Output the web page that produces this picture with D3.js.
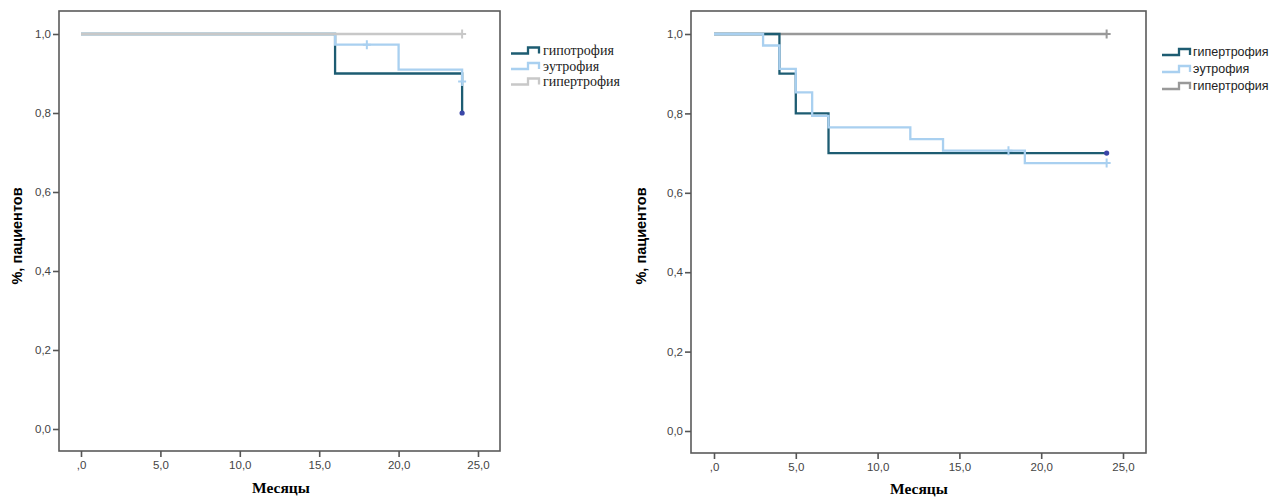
<!DOCTYPE html>
<html>
<head>
<meta charset="utf-8">
<script src="https://cdn.jsdelivr.net/npm/d3@7"></script>
<style>
  body { margin: 0; background: #fff; }
  svg { display: block; }
</style>
</head>
<body>
<script>
// survival data (months / share of patients)
var leftHypoT = [0, 16, 24], leftHypoS = [1, 0.9, 0.8];
var leftEuT = [0, 16, 20, 24], leftEuS = [1, 0.973, 0.91, 0.88];
var leftEuCens = [18, 24];
var leftHyperT = [0, 24], leftHyperS = [1, 1];
var leftHyperCens = [24];
var leftLegend = ["гипотрофия", "эутрофия", "гипертрофия"];

var rightHypoT = [0, 4, 5, 7, 24], rightHypoS = [1, 0.9, 0.8, 0.7, 0.7];
var rightEuT = [0, 3, 4, 5, 6, 7, 12, 14, 19, 24];
var rightEuS = [1, 0.971, 0.912, 0.853, 0.794, 0.765, 0.735, 0.706, 0.675, 0.675];
var rightEuCens = [18, 24];
var rightHyperT = [0, 24], rightHyperS = [1, 1];
var rightHyperCens = [24];
var rightLegend = ["гипертрофия", "эутрофия", "гипертрофия"];

var xTicks = [0, 5, 10, 15, 20, 25];
var yTicks = [0, 0.2, 0.4, 0.6, 0.8, 1];

var dark = "#1d5c72", light = "#a9d0f0", dotCol = "#3a46a8";
var serif = "'Liberation Serif', 'Times New Roman', 'DejaVu Serif', serif";
var sans = "'Liberation Sans', Arial, sans-serif";

var svg = d3.select("body").append("svg")
    .attr("width", 1277)
    .attr("height", 498);

function stepVal(T, S, t) {
  var v = S[0];
  for (var i = 0; i < T.length; i++) if (T[i] <= t) v = S[i];
  return v;
}

function drawChart(c) {
  var x = d3.scaleLinear().domain([0, 25]).range(c.xr);
  var y = d3.scaleLinear().domain([0, 1]).range(c.yr);
  var g = svg.append("g");

  // frame
  g.append("rect")
      .attr("x", c.frame[0]).attr("y", c.frame[1])
      .attr("width", c.frame[2] - c.frame[0]).attr("height", c.frame[3] - c.frame[1])
      .attr("fill", "none").attr("stroke", "#5a5a5a").attr("stroke-width", 1.6);

  var yAxis = g.append("g")
      .attr("transform", "translate(" + c.frame[0] + ",0)")
      .call(d3.axisLeft(y).tickValues(yTicks).tickSize(6).tickPadding(2)
        .tickFormat(function(d) { return d.toFixed(1).replace(".", ","); }));
  var xAxis = g.append("g")
      .attr("transform", "translate(0," + c.frame[3] + ")")
      .call(d3.axisBottom(x).tickValues(xTicks).tickSize(6).tickPadding(4)
        .tickFormat(function(d) { return d == 0 ? ",0" : d.toFixed(1).replace(".", ","); }));
  [xAxis, yAxis].forEach(function(a) {
    a.select(".domain").remove();
    a.selectAll("line").attr("stroke", "#555").attr("stroke-width", 1.6);
    a.selectAll("text").attr("fill", "#444")
      .attr("font-family", sans).attr("font-size", "11.5px");
  });

  // axis titles
  g.append("text")
      .attr("transform", "translate(" + c.ylabX + ",236) rotate(-90)")
      .attr("text-anchor", "middle").attr("dy", "0.35em")
      .attr("font-family", sans)
      .attr("font-weight", "bold").attr("font-size", "14.5px")
      .text("%, пациентов");
  g.append("text")
      .attr("x", c.xlab[0]).attr("y", c.xlab[1])
      .attr("text-anchor", "middle").attr("dy", "0.35em")
      .attr("font-family", serif)
      .attr("font-weight", "bold").attr("font-size", "15.5px")
      .text("Месяцы");

  var line = d3.line()
      .x(function(d) { return x(d[0]); })
      .y(function(d) { return y(d[1]); })
      .curve(d3.curveStepAfter);

  c.series.forEach(function(s) {
    var pts = s.t.map(function(t, i) { return [t, s.s[i]]; });
    g.append("path")
        .attr("d", line(pts))
        .attr("fill", "none").attr("stroke", s.color).attr("stroke-width", 2.3);
    (s.cens || []).forEach(function(t) {
      var v = stepVal(s.t, s.s, t);
      g.append("path")
          .attr("d", "M" + (x(t) - 4) + "," + y(v) + "H" + (x(t) + 4) +
                     "M" + x(t) + "," + (y(v) - 4.5) + "V" + (y(v) + 4.5))
          .attr("stroke", s.color).attr("stroke-width", 2);
    });
    if (s.dot) {
      var last = pts[pts.length - 1];
      g.append("circle")
          .attr("cx", x(last[0])).attr("cy", y(last[1])).attr("r", 2.6)
          .attr("fill", dotCol);
    }
  });

  // legend
  var leg = g.append("g");
  c.legend.forEach(function(name, i) {
    var cy = c.leg[1] + i * c.leg[2];
    var x0 = c.leg[0];
    leg.append("path")
        .attr("d", "M" + x0 + "," + (cy + 3) + "H" + (x0 + 17) + "V" + (cy - 3) +
                   "H" + (x0 + 28) + "V" + (cy + 3))
        .attr("fill", "none").attr("stroke", c.legColors[i]).attr("stroke-width", 2.3);
    leg.append("text")
        .attr("x", x0 + c.leg[3]).attr("y", cy).attr("dy", "0.35em")
        .attr("font-family", c.legFont).attr("font-size", c.legSize)
        .attr("fill", "#222")
        .text(name);
  });
}

drawChart({
  xr: [81, 478], yr: [429, 34],
  frame: [59, 11, 500, 451],
  ylabX: 17, xlab: [281, 488],
  series: [
    {t: leftHypoT, s: leftHypoS, color: dark, dot: true},
    {t: leftEuT, s: leftEuS, color: light, cens: leftEuCens},
    {t: leftHyperT, s: leftHyperS, color: "#c8c8c8", cens: leftHyperCens}
  ],
  legend: leftLegend,
  legColors: [dark, light, "#c8c8c8"],
  leg: [511, 50.5, 15.5, 32],
  legFont: serif, legSize: "14px"
});

drawChart({
  xr: [714, 1123], yr: [431, 34],
  frame: [691, 11, 1146, 453],
  ylabX: 641, xlab: [919, 489],
  series: [
    {t: rightHyperT, s: rightHyperS, color: "#999999", cens: rightHyperCens},
    {t: rightHypoT, s: rightHypoS, color: dark, dot: true},
    {t: rightEuT, s: rightEuS, color: light, cens: rightEuCens}
  ],
  legend: rightLegend,
  legColors: [dark, light, "#999999"],
  leg: [1162, 52, 17, 31],
  legFont: sans, legSize: "12.5px"
});
</script>
</body>
</html>
